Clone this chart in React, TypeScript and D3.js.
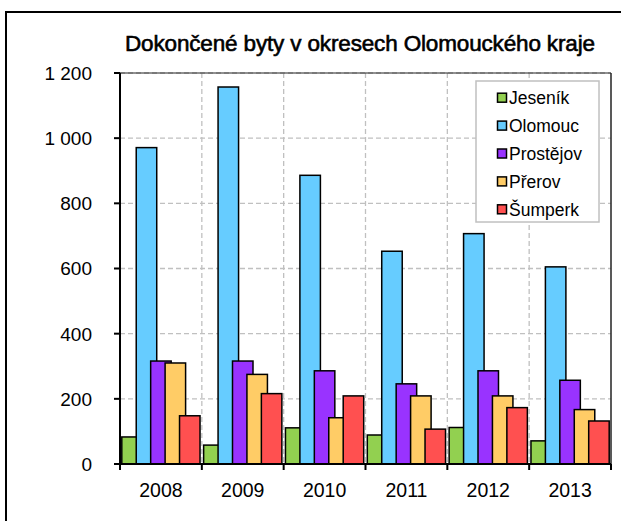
import React from "react";
import * as d3 from "d3";

const title = "Dokončené byty v okresech Olomouckého kraje";
const years = ["2008", "2009", "2010", "2011", "2012", "2013"];
const seriesNames = ["Jeseník", "Olomouc", "Prostějov", "Přerov", "Šumperk"];
const jesenik = [83, 58, 111, 89, 112, 71];
const olomouc = [971, 1157, 886, 653, 707, 605];
const prostejov = [316, 316, 286, 246, 286, 257];
const prerov = [310, 275, 142, 209, 209, 167];
const sumperk = [148, 216, 209, 107, 173, 132];
const colors = ["#92d050", "#66ccff", "#9933ff", "#ffcc66", "#ff5050"];
const yTicks = [0, 200, 400, 600, 800, 1000, 1200];

const seriesValues = [jesenik, olomouc, prostejov, prerov, sumperk];

const fmt = (v: number) => (v >= 1000 ? `${Math.floor(v / 1000)} ${String(v % 1000).padStart(3, "0")}` : String(v));

export default function App() {
  const left = 120, right = 611, top = 73, bottom = 464;
  const x = d3.scaleBand<string>().domain(years).range([left, right]).paddingInner(0).paddingOuter(0);
  const y = d3.scaleLinear().domain([0, 1200]).range([bottom, top]);
  const bw = x.bandwidth();
  const groupW = bw - 3.6;
  const barW = 20.5;
  const step = (groupW - barW) / 4;
  const font = "'Liberation Sans', Arial, sans-serif";

  return (
    <svg width={621} height={521} style={{ position: "absolute", left: 0, top: 0 }} fontFamily={font}>
      <rect x={0} y={0} width={621} height={521} fill="#fff" />
      <rect x={6} y={12} width={640} height={540} fill="none" stroke="#000" strokeWidth={2} />
      <text x={125} y={51} fontSize={22.5} stroke="#000" strokeWidth={0.6} textLength={470} lengthAdjust="spacing" fill="#000">{title}</text>

      {yTicks.filter(t => t > 0).map(t => (
        <line key={"gy" + t} x1={left} x2={right} y1={y(t)} y2={y(t)} stroke="#c0c0c0" strokeWidth={1.3} strokeDasharray="5,3" />
      ))}
      {years.slice(1).map(yr => (
        <line key={"gx" + yr} x1={x(yr)!} x2={x(yr)!} y1={top} y2={bottom} stroke="#c0c0c0" strokeWidth={1.3} strokeDasharray="5,3" />
      ))}
      <line x1={left} x2={right} y1={top} y2={top} stroke="#222" strokeWidth={1} />
      <line x1={right} x2={right} y1={top} y2={bottom} stroke="#222" strokeWidth={1.5} />

      {seriesValues.map((vals, si) =>
        vals.map((v, i) => (
          <rect key={si + "-" + i}
            x={x(years[i])! + 1.8 + si * step}
            y={y(v)}
            width={barW}
            height={bottom - y(v)}
            fill={colors[si]}
            stroke="#000"
            strokeWidth={1.5} />
        ))
      )}

      <line x1={left} x2={left} y1={top} y2={bottom} stroke="#000" strokeWidth={2} />
      <line x1={left - 6} x2={right} y1={bottom} y2={bottom} stroke="#000" strokeWidth={2} />
      {yTicks.map(t => (
        <g key={"yt" + t}>
          <line x1={left - 6} x2={left} y1={y(t)} y2={y(t)} stroke="#000" strokeWidth={2} />
          <text x={92} y={y(t)} dy="0.36em" textAnchor="end" fontSize={19} fill="#000">{fmt(t)}</text>
        </g>
      ))}
      {years.map((yr) => (
        <line key={"xt" + yr} x1={x(yr)!} x2={x(yr)!} y1={bottom} y2={bottom + 6} stroke="#000" strokeWidth={2} />
      ))}
      <line x1={right} x2={right} y1={bottom} y2={bottom + 6} stroke="#000" strokeWidth={2} />
      {years.map(yr => (
        <text key={"xl" + yr} x={x(yr)! + bw / 2} y={497} textAnchor="middle" fontSize={19.5} fill="#000">{yr}</text>
      ))}

      <rect x={476} y={81} width={123} height={141} fill="#fff" stroke="#c0c0c0" strokeWidth={1.5} />
      {seriesNames.map((n, i) => {
        const cy = 97.7 + i * 27.9;
        return (
          <g key={"lg" + n}>
            <rect x={497.5} y={cy - 4.5} width={9} height={9} fill={colors[i]} stroke="#000" strokeWidth={1.5} />
            <text x={509} y={cy} dy="0.36em" fontSize={17.5} fill="#000">{n}</text>
          </g>
        );
      })}
    </svg>
  );
}
